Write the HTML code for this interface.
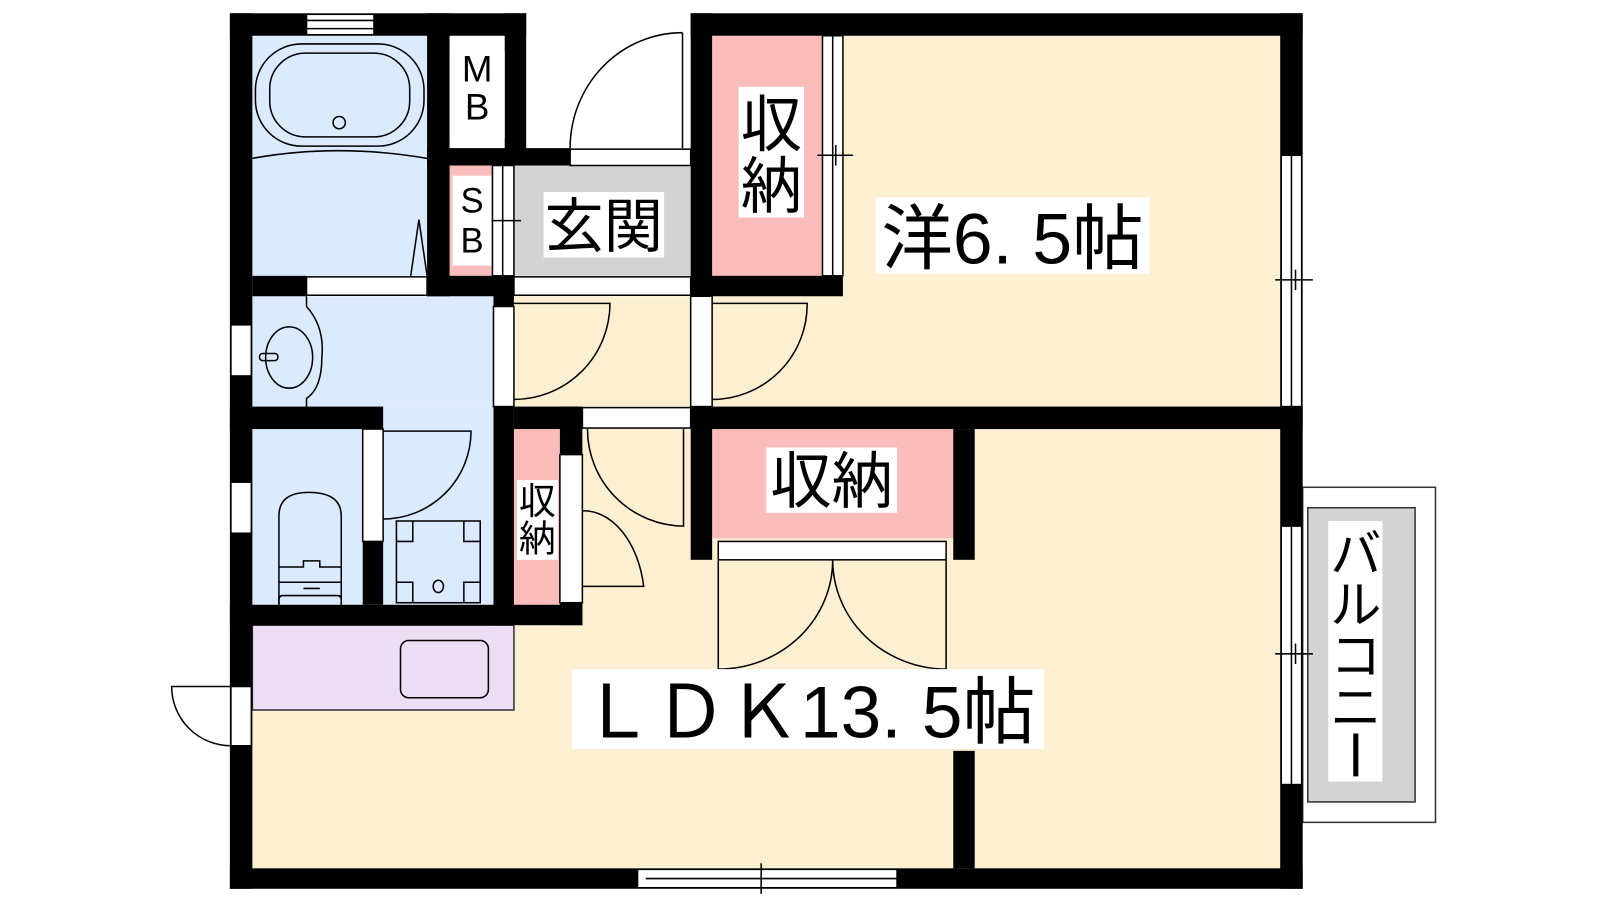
<!DOCTYPE html>
<html><head><meta charset="utf-8"><style>
html,body{margin:0;padding:0;background:#fff;width:1600px;height:900px;overflow:hidden}
svg{display:block}
text{font-family:"Liberation Sans","Noto Sans CJK JP",sans-serif;fill:#000}
</style></head><body>
<svg width="1600" height="900" viewBox="0 0 1566 881" preserveAspectRatio="none" xmlns="http://www.w3.org/2000/svg">
<g stroke="none">
<rect x="697" y="35" width="556" height="363" fill="#fdf0d2"/>
<rect x="697" y="420" width="556" height="430" fill="#fdf0d2"/>
<rect x="247" y="592" width="700" height="258" fill="#fdf0d2"/>
<rect x="503" y="290" width="173" height="310" fill="#fdf0d2"/>
<rect x="570" y="420" width="130" height="180" fill="#fdf0d2"/>
<rect x="247" y="35" width="171" height="235" fill="#dbeafd"/>
<rect x="247" y="290" width="236" height="108" fill="#dbeafd"/>
<rect x="375" y="398" width="108" height="194" fill="#dbeafd"/>
<rect x="247" y="420" width="108" height="172" fill="#dbeafd"/>
<rect x="440" y="35" width="54" height="110" fill="#fff"/>
<rect x="440" y="162" width="42" height="108" fill="#fbbcbc"/>
<rect x="503" y="162" width="173" height="108" fill="#d3d3d3"/>
<rect x="697" y="35" width="108" height="235" fill="#fbbcbc"/>
<rect x="697" y="420" width="236" height="107" fill="#fbbcbc"/>
<rect x="503" y="420" width="45" height="172" fill="#fbbcbc"/>
<rect x="247" y="612" width="256" height="83" fill="#ecdef5" stroke="#333" stroke-width="1.5"/>
<rect x="1275" y="477" width="130" height="328" fill="#fff" stroke="#333" stroke-width="1.5"/>
<rect x="1280" y="497" width="105" height="288" fill="#d3d3d3" stroke="#333" stroke-width="1.5"/>
</g>
<g fill="#000">
<rect x="225" y="13" width="290" height="22"/>
<rect x="676" y="13" width="599" height="22"/>
<rect x="225" y="13" width="22" height="857"/>
<rect x="225" y="850" width="1050" height="20"/>
<rect x="1253" y="13" width="22" height="857"/>
<rect x="676" y="398" width="599" height="22"/>
<rect x="676" y="13" width="21" height="277"/>
<rect x="676" y="270" width="149" height="20"/>
<rect x="676" y="398" width="21" height="150"/>
<rect x="933" y="420" width="21" height="128"/>
<rect x="933" y="735" width="21" height="115"/>
<rect x="418" y="13" width="22" height="277"/>
<rect x="494" y="13" width="21" height="149"/>
<rect x="418" y="145" width="140" height="17"/>
<rect x="247" y="270" width="53" height="20"/>
<rect x="418" y="270" width="85" height="20"/>
<rect x="483" y="270" width="20" height="30"/>
<rect x="483" y="398" width="20" height="214"/>
<rect x="225" y="398" width="150" height="22"/>
<rect x="355" y="530" width="20" height="62"/>
<rect x="225" y="592" width="345" height="20"/>
<rect x="548" y="398" width="22" height="47"/>
<rect x="548" y="590" width="22" height="22"/>
<rect x="503" y="398" width="67" height="22"/>
</g>
<g fill="#fff" stroke="#000" stroke-width="1.5">
<rect x="300" y="14" width="66" height="20"/>
<rect x="300" y="271" width="118" height="18"/>
<rect x="558" y="146" width="118" height="16"/>
<rect x="503" y="271" width="173" height="18"/>
<rect x="483" y="300" width="20" height="98"/>
<rect x="676" y="290" width="21" height="108"/>
<rect x="570" y="399" width="106" height="20"/>
<rect x="548" y="445" width="22" height="145"/>
<rect x="355" y="420" width="20" height="110"/>
<rect x="226" y="318" width="20" height="50"/>
<rect x="226" y="472" width="20" height="50"/>
<rect x="226" y="672" width="20" height="58"/>
<rect x="703" y="530" width="223" height="18"/>
<rect x="805" y="35" width="20" height="235"/>
<rect x="482" y="162" width="21" height="108"/>
<rect x="1254" y="152" width="20" height="246"/>
<rect x="1254" y="515" width="20" height="253"/>
<rect x="624" y="851" width="254" height="18"/>
</g>
<g fill="none" stroke="#000" stroke-width="1.5">
<line x1="300" y1="20" x2="366" y2="20"/><line x1="300" y1="28" x2="366" y2="28"/>
<line x1="632" y1="860" x2="878" y2="860"/><line x1="745" y1="845" x2="745" y2="875"/>
<line x1="815" y1="35" x2="815" y2="270"/><line x1="800" y1="152" x2="835" y2="152"/><line x1="818" y1="142" x2="818" y2="162"/>
<line x1="1264" y1="152" x2="1264" y2="398"/><line x1="1248" y1="274" x2="1285" y2="274"/><line x1="1268" y1="264" x2="1268" y2="284"/>
<line x1="1264" y1="515" x2="1264" y2="768"/><line x1="1248" y1="640" x2="1285" y2="640"/><line x1="1268" y1="630" x2="1268" y2="650"/>
<line x1="492" y1="162" x2="492" y2="270"/><line x1="480" y1="216" x2="510" y2="216"/>
<path d="M668 32 L668 145 M668 32 A110 113 0 0 0 558 145"/>
<path d="M503 297 L597 297 A94 94 0 0 1 503 391"/>
<path d="M697 297 L790 297 A93 93 0 0 1 697 391"/>
<path d="M669 420 L669 515 A95 95 0 0 1 575 420"/>
<path d="M570 500 A60 90 0 0 1 630 574 L570 574"/>
<path d="M375 422 L461 422 A86 86 0 0 1 375 508"/>
<path d="M226 672 L168 672 A58 58 0 0 0 226 730"/>
<path d="M703 548 L703 655 M815 548 A112 107 0 0 1 703 655"/>
<path d="M926 548 L926 655 M815 548 A112 107 0 0 0 926 655"/>
<rect x="250" y="43" width="165" height="100" rx="45"/>
<rect x="264" y="52" width="137" height="82" rx="35"/>
<circle cx="332" cy="120" r="6"/>
<path d="M247 155 Q330 140 418 155"/>
<path d="M402 270 L410 215 L418 270"/>
<path d="M300 290 L300 300 Q318 320 315 350 Q315 380 300 390 L300 398"/>
<ellipse cx="283" cy="350" rx="23" ry="30"/>
<rect x="254" y="346" width="18" height="7" rx="3"/>
<path d="M273 592 L273 505 Q273 482 302 482 Q334 482 334 505 L334 592"/>
<path d="M273 570 L334 570 M273 555 L297 555 L297 549 L313 549 L313 555 L334 555 M297 576 L313 576 M273 592 L273 587 Q273 583 277 583 L330 583 Q334 583 334 587 L334 592"/>
<rect x="388" y="510" width="82" height="80"/>
<path d="M388 530 L404 530 L404 510 M454 510 L454 530 L470 530 M388 570 L404 570 L404 590 M470 570 L454 570 L454 590"/>
<ellipse cx="429" cy="574" rx="5" ry="6"/>
<rect x="392" y="627" width="86" height="56" rx="8"/>
</g>
<g>
<rect x="440" y="50" width="54" height="85" fill="#fff"/>
<text x="467" y="80" font-size="36" text-anchor="middle">M</text>
<text x="467" y="117" font-size="36" text-anchor="middle">B</text>
<rect x="443" y="172" width="38" height="88" fill="#fff"/>
<text x="462" y="208" font-size="34" text-anchor="middle">S</text>
<text x="462" y="247" font-size="34" text-anchor="middle">B</text>
<rect x="532" y="188" width="118" height="64" fill="#fff"/>
<text x="591" y="242" font-size="58" text-anchor="middle">玄関</text>
<rect x="723" y="85" width="64" height="128" fill="#fff"/>
<text x="755" y="143" font-size="60" text-anchor="middle">収</text>
<text x="755" y="203" font-size="60" text-anchor="middle">納</text>
<rect x="857" y="193" width="268" height="75" fill="#fff"/>
<text x="991" y="258" font-size="70" text-anchor="middle">洋6. 5帖</text>
<rect x="750" y="438" width="128" height="64" fill="#fff"/>
<text x="814" y="492" font-size="60" text-anchor="middle">収納</text>
<rect x="506" y="470" width="40" height="78" fill="#fff"/>
<text x="526" y="503" font-size="36" text-anchor="middle">収</text>
<text x="526" y="540" font-size="36" text-anchor="middle">納</text>
<rect x="560" y="655" width="462" height="78" fill="#fff"/>
<text x="791" y="722" font-size="72" text-anchor="middle" textLength="445" lengthAdjust="spacingAndGlyphs">ＬＤＫ13. 5帖</text>
<rect x="1300" y="510" width="53" height="255" fill="#fff"/>
<text x="1327" y="560" font-size="50" text-anchor="middle">バ</text>
<text x="1327" y="610" font-size="50" text-anchor="middle">ル</text>
<text x="1327" y="660" font-size="50" text-anchor="middle">コ</text>
<text x="1327" y="710" font-size="50" text-anchor="middle">ニ</text>
<line x1="1327" y1="718" x2="1327" y2="760" stroke="#000" stroke-width="5"/>
</g>
</svg>
</body></html>
